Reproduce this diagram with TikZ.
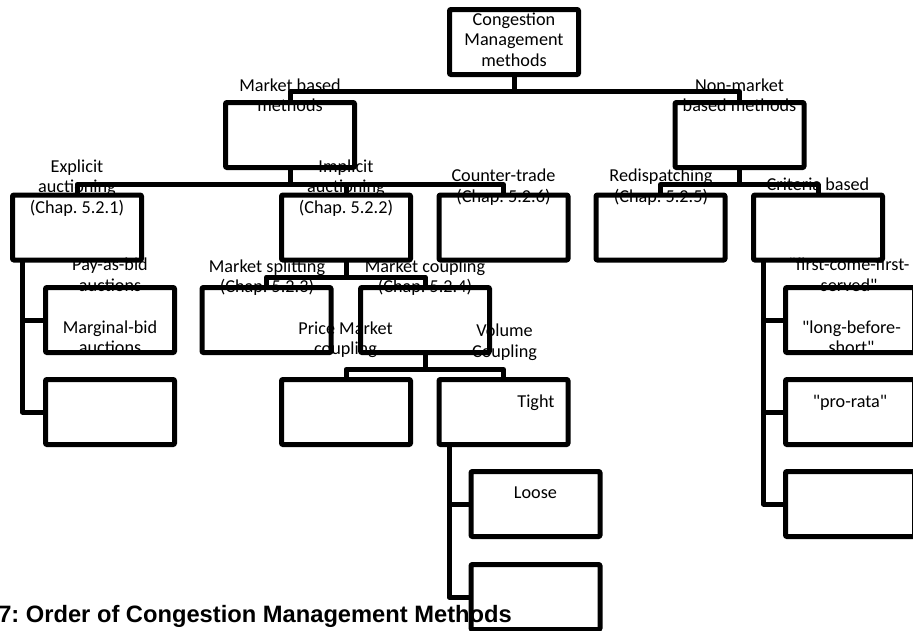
\documentclass[tikz,border=0pt]{standalone}
\usepackage{fontspec}
\setmainfont{Carlito}[Ligatures=TeXOff]
\newfontfamily\captionfont{Liberation Sans}
\frenchspacing
\begin{document}
\begin{tikzpicture}[x=1pt,y=-1pt,
  box/.style={draw, line width=5pt, line join=round, rounded corners=1pt,
    minimum width=129pt, minimum height=65pt, inner sep=0pt},
  lbl/.style={font=\fontsize{18.2}{20.5}\selectfont, align=center, inner sep=0pt},
  link/.style={line width=5pt, line join=round, line cap=round}]
\useasboundingbox (0,0) rectangle (913,630);
\clip (0,0) rectangle (913,630);

% boxes
\node[box] (cm)  at (514,42)    {};
\node[box] (mb)  at (290,135)   {};
\node[box] (nm)  at (739.5,135) {};
\node[box] (ea)  at (77,227.5)  {};
\node[box] (ia)  at (346,227.5) {};
\node[box] (ct)  at (503.5,227.5) {};
\node[box] (rd)  at (660.5,227.5) {};
\node[box] (cb)  at (818,227.5) {};
\node[box] (ea1) at (110,320)   {};
\node[box] (ea2) at (110,412)   {};
\node[box] (ms)  at (266.5,320) {};
\node[box] (mc)  at (425,320)   {};
\node[box] (pc)  at (346,412)   {};
\node[box] (vc)  at (503.5,412) {};
\node[box] (vc1) at (535.5,504) {};
\node[box] (vc2) at (535.5,597) {};
\node[box] (cb1) at (850,320)   {};
\node[box] (cb2) at (850,412)   {};
\node[box] (cb3) at (850,504)   {};

% tree connectors
\draw[link] (cm.south) -- ++(0,14.5) -| (mb.north);
\draw[link] (cm.south) -- ++(0,14.5) -| (nm.north);
\draw[link] (mb.south) -- ++(0,14.5) -| (ea.north);
\draw[link] (mb.south) -- ++(0,14.5) -| (ia.north);
\draw[link] (mb.south) -- ++(0,14.5) -| (ct.north);
\draw[link] (nm.south) -- ++(0,14.5) -| (rd.north);
\draw[link] (nm.south) -- ++(0,14.5) -| (cb.north);
\draw[link] (ia.south) -- ++(0,14.5) -| (ms.north);
\draw[link] (ia.south) -- ++(0,14.5) -| (mc.north);
\draw[link] (mc.south) -- ++(0,14.5) -| (pc.north);
\draw[link] (mc.south) -- ++(0,14.5) -| (vc.north);

% hanging connectors
\draw[link] ([xshift=12.5pt]ea.south west) |- (ea1.west);
\draw[link] ([xshift=12.5pt]ea.south west) |- (ea2.west);
\draw[link] ([xshift=12.5pt]vc.south west) |- (vc1.west);
\draw[link] ([xshift=12.5pt]vc.south west) |- (vc2.west);
\draw[link] ([xshift=12.5pt]cb.south west) |- (cb1.west);
\draw[link] ([xshift=12.5pt]cb.south west) |- (cb2.west);
\draw[link] ([xshift=12.5pt]cb.south west) |- (cb3.west);

% labels
\node[lbl] (tcm)  at (514,39.5)  {Congestion\\Management\\methods};
\node[lbl] (tmb)  at (290,95)    {Market based\\methods};
\node[lbl] (tnm)  at (739.5,95)  {Non-market\\based methods};
\node[lbl] (tea)  at (77,188)    {Explicit\\auctioning\\(Chap. 5.2.1)};
\node[lbl] (tia)  at (346,188)   {Implicit\\auctioning\\(Chap. 5.2.2)};
\node[lbl] (tct)  at (503.5,187) {Counter-trade\\(Chap. 5.2.6)};
\node[lbl] (trd)  at (661,187)   {Redispatching\\(Chap. 5.2.5)};
\node[lbl] (tcb)  at (818,184.5) {Criteria based};
\node[lbl] (tpab) at (110,274.6) {Pay-as-bid\\auctions};
\node[lbl] (tmgb) at (110,337)   {Marginal-bid\\auctions};
\node[lbl] (tms)  at (267,277.5) {Market splitting\\(Chap. 5.2.3)};
\node[lbl] (tmc)  at (425,277.5) {Market coupling\\(Chap. 5.2.4)};
\node[lbl] (tpc)  at (345.5,339.5) {Price Market\\coupling};
\node[lbl] (tvc)  at (504.5,342) {Volume\\Coupling};
\node[lbl] (tfc)  at (849,274.6) {"first-come-first-\\served"};
\node[lbl] (tlb)  at (851.5,337) {"long-before-\\short"};
\node[lbl] (tpr)  at (850,403)   {"pro-rata"};
\node[lbl] (ttg)  at (536,403)   {Tight};
\node[lbl] (tls)  at (535.5,492.6) {Loose};

% caption
\node[inner sep=0pt, anchor=base east, font=\captionfont\bfseries\fontsize{23.7}{28}\selectfont]
  (cap) at (512,622) {7: Order of Congestion Management Methods};
\end{tikzpicture}
\end{document}
